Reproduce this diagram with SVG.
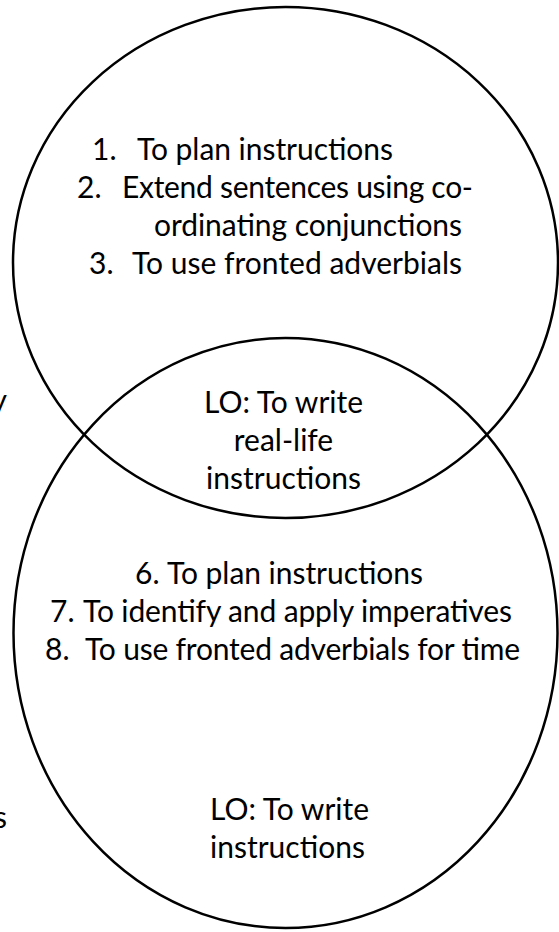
<svg xmlns="http://www.w3.org/2000/svg" width="559" height="932" viewBox="0 0 559 932">
  <style>
    .ring { fill: none; stroke: #000; stroke-width: 2.5; }
    .t { font-family: Lato, "Open Sans", "Liberation Sans", sans-serif; font-size: 30px; fill: #000; }
    .c { text-anchor: middle; }
  </style>
  <rect width="559" height="932" fill="#fff"/>

  <!-- upper circle: lesson steps 1-3 -->
  <g id="circle-upper">
    <ellipse class="ring" cx="285.5" cy="262.5" rx="272.5" ry="255.5"/>
    <text class="t" x="92" y="160">1.</text>
    <text class="t" x="137" y="160" textLength="256" lengthAdjust="spacing">To plan instructions</text>
    <text class="t" x="77" y="198">2.</text>
    <text class="t" x="122" y="198" textLength="351" lengthAdjust="spacing">Extend sentences using co-</text>
    <text class="t" x="154" y="236" textLength="308" lengthAdjust="spacing">ordinating conjunctions</text>
    <text class="t" x="89" y="274">3.</text>
    <text class="t" x="132" y="274" textLength="330" lengthAdjust="spacing">To use fronted adverbials</text>
  </g>

  <!-- overlap: shared objective -->
  <g id="overlap-label">
    <text class="t c" x="283.5" y="413">LO: To write</text>
    <text class="t c" x="283.5" y="451">real-life</text>
    <text class="t c" x="283.5" y="489">instructions</text>
  </g>

  <!-- lower circle: lesson steps 6-8 -->
  <g id="circle-lower">
    <ellipse class="ring" cx="285.5" cy="633" rx="272" ry="295"/>
    <text class="t" x="135" y="584">6.</text>
    <text class="t" x="167" y="584" textLength="256" lengthAdjust="spacing">To plan instructions</text>
    <text class="t" x="50" y="622">7.</text>
    <text class="t" x="83" y="622" textLength="429" lengthAdjust="spacing">To identify and apply imperatives</text>
    <text class="t" x="45" y="660">8.</text>
    <text class="t" x="85" y="660" textLength="435" lengthAdjust="spacing">To use fronted adverbials for time</text>
    <text class="t" x="210" y="820">LO: To write</text>
    <text class="t" x="210" y="858">instructions</text>
  </g>

  <!-- letters cut off at the left edge -->
  <g id="edge-fragments">
    <text class="t" x="7" y="411" text-anchor="end">y</text>
    <text class="t" x="7" y="828" text-anchor="end">s</text>
  </g>
</svg>
